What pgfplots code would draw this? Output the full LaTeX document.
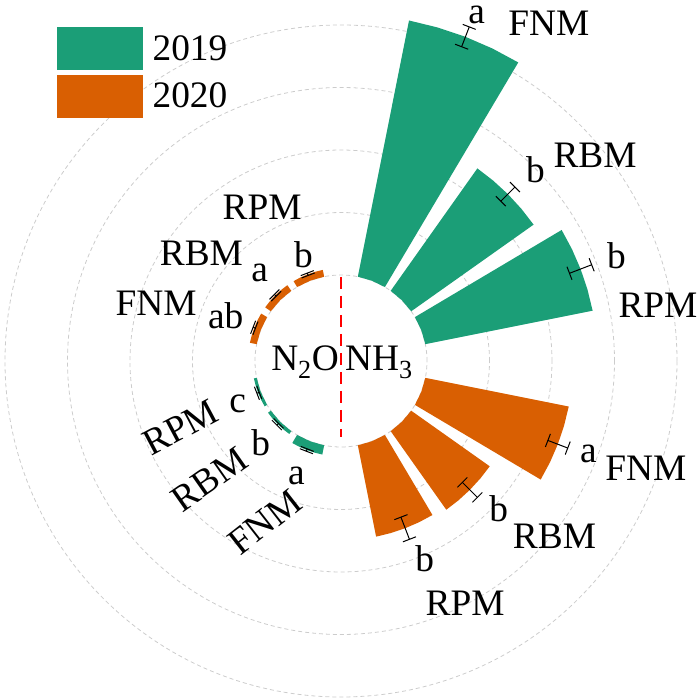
\documentclass[border=0pt]{standalone}
\usepackage{fontspec}
\setmainfont{Liberation Serif}
\usepackage{pgfplots}
\pgfplotsset{compat=1.18}
\usepgfplotslibrary{polar}
\definecolor{c19}{HTML}{1B9E77}
\definecolor{c20}{HTML}{D95F02}
\newcommand\hole{1.376}
% polar bar: #1 centre angle, #2 value, #3 colour
\newcommand\polbar[3]{%
 \pgfmathsetmacro\pa{#1-9.7}\pgfmathsetmacro\pb{#1-4.85}%
 \pgfmathsetmacro\pc{#1+4.85}\pgfmathsetmacro\pd{#1+9.7}%
 \pgfmathsetmacro\pr{#2+\hole}%
 \edef\tmp{\noexpand\addplot[fill=#3,draw=none,forget plot] coordinates {(\pa,\hole) (\pa,\pr) (\pb,\pr) (#1,\pr) (\pc,\pr) (\pd,\pr) (\pd,\hole) (#1,\hole)} -- cycle;}\tmp}
% error bar: #1 angle, #2 value, #3 error
\newcommand\errbar[3]{%
 \pgfmathsetmacro\plo{#2-#3+\hole}\pgfmathsetmacro\phe{#2+#3+\hole}%
 \pgfmathsetmacro\prot{#1-90}%
 \edef\tmp{\noexpand\addplot[black,line width=1bp,mark=-,mark size=7bp,mark options={rotate=\prot,solid},forget plot] coordinates {(#1,\plo) (#1,\phe)};}\tmp}
\begin{document}
\begin{tikzpicture}[font=\fontsize{37.5}{42}\selectfont]
\begin{polaraxis}[
  width=672bp, height=672bp, scale only axis,
  ymin=0, ymax=5.376,
  xtick=\empty,
  ytick={1.376,2.376,3.376,4.376,5.376},
  yticklabels=\empty,
  ymajorgrids, xmajorgrids=false,
  major tick length=0pt,
  grid style={draw=gray!40, line width=0.8bp, dash pattern=on 4bp off 3bp},
  axis line style={draw=none},
  clip=false,
  legend style={at={(axis cs:130.37,7.015)}, anchor=north west, draw=none, fill=none,
    inner sep=0pt, row sep=5bp, column sep=10bp, nodes={inner sep=0pt},
    font=\fontsize{37.5}{42}\selectfont},
  legend cell align=left,
]
\coordinate (O) at (axis cs:0,0);
\addlegendimage{legend image code/.code={\fill[c19] (0bp,-21bp) rectangle (85bp,21bp);}}
\addlegendentry{2019}
\addlegendimage{legend image code/.code={\fill[c20] (0bp,-21bp) rectangle (85bp,21bp);}}
\addlegendentry{2020}
% NH3 2019: FNM, RBM, RPM
\polbar{69}{4.18}{c19}
\polbar{45}{2.40}{c19}
\polbar{21}{2.73}{c19}
% NH3 2020
\polbar{339}{2.34}{c20}
\polbar{315}{1.54}{c20}
\polbar{291}{1.49}{c20}
% N2O 2019
\polbar{249}{0.15}{c19}
\polbar{225}{0.055}{c19}
\polbar{201}{0.045}{c19}
% N2O 2020
\polbar{159}{0.11}{c20}
\polbar{135}{0.11}{c20}
\polbar{111}{0.11}{c20}
% error bars
\errbar{69}{4.18}{0.17}
\errbar{45}{2.40}{0.16}
\errbar{21}{2.73}{0.19}
\errbar{339}{2.34}{0.17}
\errbar{315}{1.54}{0.17}
\errbar{291}{1.49}{0.19}
\errbar{249}{0.15}{0.02}
\errbar{225}{0.055}{0.02}
\errbar{201}{0.045}{0.02}
\errbar{159}{0.11}{0.02}
\errbar{135}{0.11}{0.02}
\errbar{111}{0.11}{0.02}
% centre line and gas names
\draw[red, line width=2.5bp, dash pattern=on 12bp off 7bp] (axis cs:90,1.344) -- (axis cs:270,1.216);
\node[anchor=base east, inner sep=0pt] at ([xshift=-2bp,yshift=-9bp]axis cs:0,0) {N\textsubscript{2}O};
\node[anchor=base west, inner sep=0pt] at ([xshift=4bp,yshift=-9bp]axis cs:0,0) {NH\textsubscript{3}};
% right side labels
\node at (axis cs:68.6,5.95) {a};
\node at (axis cs:58.4,6.35) {FNM};
\node at (axis cs:44.6,4.37) {b};
\node at (axis cs:39,5.23) {RBM};
\node at (axis cs:21,4.72) {b};
\node at (axis cs:10,5.15) {RPM};
\node at (axis cs:339.4,4.23) {a};
\node at (axis cs:340.6,5.17) {FNM};
\node at (axis cs:316.8,3.46) {b};
\node at (axis cs:320.6,4.42) {RBM};
\node at (axis cs:293,3.43) {b};
\node at (axis cs:297.1,4.36) {RPM};
% left top labels
\node at (axis cs:117.2,2.76) {RPM};
\node at (axis cs:109.5,1.80) {b};
\node at (axis cs:142.4,2.82) {RBM};
\node at (axis cs:132.6,1.92) {a};
\node at (axis cs:162.7,3.10) {FNM};
\node at (axis cs:158.7,1.98) {ab};
% left bottom labels
\node at (axis cs:202.6,1.79) {c};
\node[rotate=28] at (axis cs:202.4,2.78) {RPM};
\node at (axis cs:225.4,1.83) {b};
\node[rotate=35] at (axis cs:222,2.83) {RBM};
\node at (axis cs:248.8,1.97) {a};
\node[rotate=38] at (axis cs:244.7,2.85) {FNM};
\end{polaraxis}
\pgfresetboundingbox
\path[use as bounding box] ([shift={(-341bp,-339bp)}]O) rectangle ([shift={(358bp,361bp)}]O);
\end{tikzpicture}
\end{document}
